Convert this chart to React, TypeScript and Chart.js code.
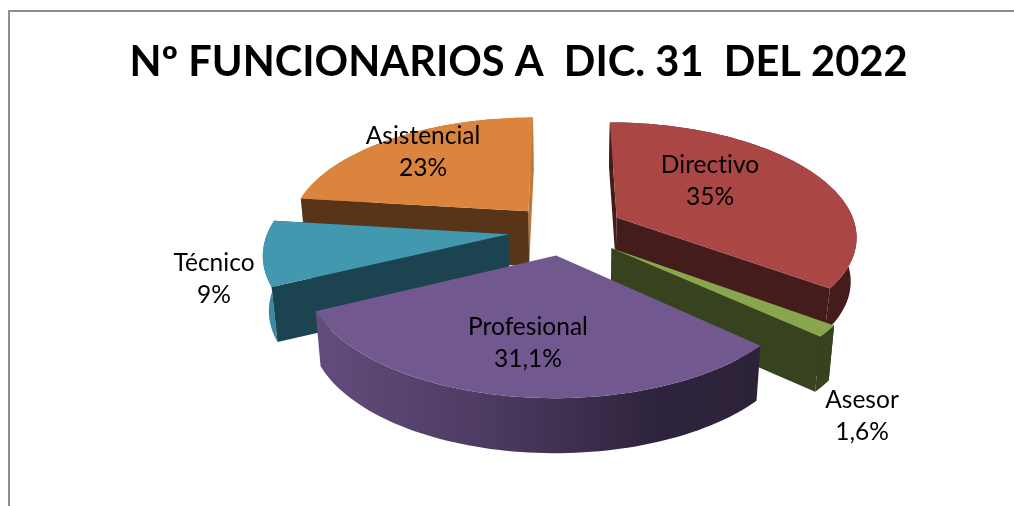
import React, { useEffect, useRef } from "react";
import { Chart, registerables } from "chart.js";

Chart.register(...registerables);

const titleText = "Nº FUNCIONARIOS A  DIC. 31  DEL 2022";
const categories = ["Directivo", "Asesor", "Profesional", "Técnico", "Asistencial"];
const percentLabels = ["35%", "1,6%", "31,1%", "9%", "23%"];
const shareValues = [35, 1.6, 31.1, 9, 23];

// styles, kept apart from the data
const topColors = ["#AA4643", "#89A54E", "#71588F", "#4198AF", "#DB843D"];
const wallColors = ["#441C1B", "#37421F", "", "#1B4450", "#583518"];
const farWallColors = ["#441C1B", "#37421F", "", "#1B4450", "#BF7736"];
const rimColors = ["#441C1B", "#37421F", "", "#3C8AA2", "#BF7736"];
const explode = [60, 60, 53, 56, 55];
const sliceDepths = [44, 55, 55, 55, 55];
const drawOrder = [4, 0, 3, 1, 2];
const labelCenters = [
  [710, 165],
  [862, 400],
  [528, 327],
  [214, 263],
  [423, 136],
];

// 3-D projection of the pie plane
const CX = 564;
const CY = 230;
const PLANE_R = 240;
const TILT = 0.47;
const PERSP = 0.15;
const TAPER = 0.02;

function project(u: number, v: number, h: number, depth: number): [number, number] {
  const s = 1 / (1 - (PERSP * v) / PLANE_R);
  return [CX + u * s * (1 - TAPER * h), CY + v * TILT * s + depth * h];
}

function pie3d(chart: any) {
  const ctx: CanvasRenderingContext2D = chart.ctx;
  const arcs = chart.getDatasetMeta(0).data as any[];
  for (const i of drawOrder) {
    const el = arcs[i];
    const a0 = el.startAngle;
    const a1 = el.endAngle;
    const mid = (a0 + a1) / 2;
    const off = el.options.offset;
    const d = sliceDepths[i];
    const ox = Math.cos(mid) * off;
    const oy = Math.sin(mid) * off;
    const R = PLANE_R;
    const steps = 72;
    const rimPoint = (t: number): [number, number] => {
      const a = a0 + (a1 - a0) * t;
      return [ox + R * Math.cos(a), oy + R * Math.sin(a)];
    };
    const poly = (pts: [number, number][], fill: any) => {
      ctx.beginPath();
      pts.forEach((p, k) => (k ? ctx.lineTo(p[0], p[1]) : ctx.moveTo(p[0], p[1])));
      ctx.closePath();
      ctx.fillStyle = fill;
      ctx.fill();
    };
    const wall = (t: number, fill: string) => {
      if (!fill) return;
      const [u, v] = rimPoint(t);
      poly(
        [project(ox, oy, 0, d), project(u, v, 0, d), project(u, v, 1, d), project(ox, oy, 1, d)],
        fill
      );
    };

    // outer rim
    const rimTop: [number, number][] = [];
    const rimBottom: [number, number][] = [];
    for (let k = 0; k <= steps; k++) {
      const [u, v] = rimPoint(k / steps);
      rimTop.push(project(u, v, 0, d));
      rimBottom.push(project(u, v, 1, d));
    }
    let rimFill: any = rimColors[i];
    if (!rimFill) {
      const g = ctx.createLinearGradient(318, 0, 763, 0);
      g.addColorStop(0, "#624C7C");
      g.addColorStop(0.4, "#4B3A60");
      g.addColorStop(0.75, "#2F243E");
      g.addColorStop(1, "#2C2238");
      rimFill = g;
    }
    poly([...rimTop, ...rimBottom.slice().reverse()], rimFill);

    // radial walls, farther one first, over the rim
    const order = rimPoint(0)[1] < rimPoint(1)[1] ? [0, 1] : [1, 0];
    wall(order[0], farWallColors[i]);
    wall(order[1], wallColors[i]);

    // top face
    poly([project(ox, oy, 0, d), ...rimTop], el.options.backgroundColor);
  }
}

const pie3dPlugin = {
  id: "pie3d",
  beforeDraw(chart: any) {
    const ctx = chart.ctx;
    ctx.save();
    ctx.fillStyle = "#FFFFFF";
    ctx.fillRect(0, 0, chart.width, chart.height);
    ctx.fillStyle = "#8E8E8E";
    ctx.fillRect(8, 10, chart.width - 8, 2);
    ctx.fillRect(8, 10, 2, chart.height - 10);
    ctx.restore();
  },
  beforeDatasetDraw(chart: any) {
    pie3d(chart);
    return false;
  },
  afterDraw(chart: any) {
    const ctx = chart.ctx;
    ctx.save();
    ctx.font = "24.5px Lato";
    (ctx as any).letterSpacing = "0.01px";
    ctx.fillStyle = "#000000";
    ctx.textAlign = "center";
    ctx.textBaseline = "middle";
    categories.forEach((name, i) => {
      const [x, y] = labelCenters[i];
      ctx.fillText(name, x, y);
      ctx.fillText(percentLabels[i], x, y + 32);
    });
    ctx.restore();
  },
};

export default function App() {
  const ref = useRef<HTMLCanvasElement>(null);
  useEffect(() => {
    const chart = new Chart(ref.current as HTMLCanvasElement, {
      type: "pie",
      data: {
        labels: categories,
        datasets: [
          {
            data: shareValues,
            backgroundColor: topColors,
            offset: explode,
            borderWidth: 0,
          },
        ],
      },
      options: {
        responsive: false,
        animation: false,
        events: [],
        layout: { padding: { left: 23 } },
        plugins: {
          legend: { display: false },
          tooltip: { enabled: false },
          title: {
            display: true,
            text: titleText,
            color: "#000000",
            font: { family: "Lato", size: 41.6, weight: "bold" },
            padding: { top: 38, bottom: 10 },
          },
        },
      },
      plugins: [pie3dPlugin],
    } as any);
    return () => chart.destroy();
  }, []);
  return (
    <canvas
      ref={ref}
      width={1014}
      height={506}
      style={{ position: "fixed", left: 0, top: 0, display: "block" }}
    />
  );
}
